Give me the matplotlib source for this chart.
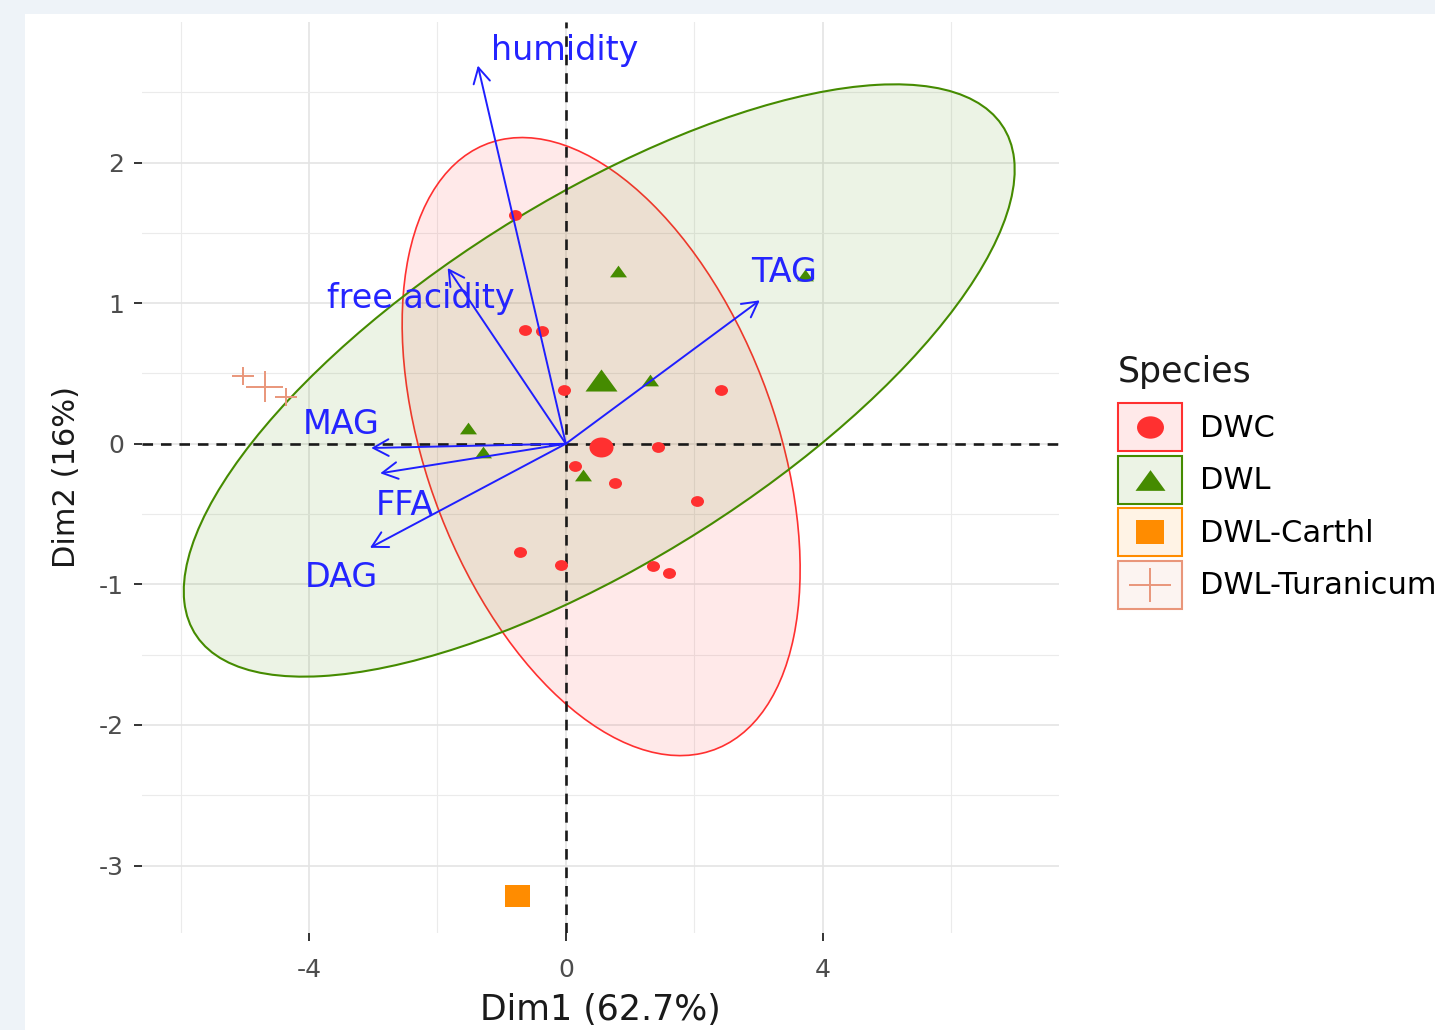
import matplotlib
matplotlib.use("Agg")
import matplotlib.pyplot as plt
import numpy as np
from matplotlib.patches import Ellipse, Rectangle, FancyArrowPatch, ArrowStyle
from matplotlib.lines import Line2D
from matplotlib.path import Path
from matplotlib.colors import to_rgba
from matplotlib.ticker import FixedLocator
from matplotlib.legend_handler import HandlerBase

plt.rcParams['axes.unicode_minus'] = False
plt.rcParams['font.family'] = ['DejaVu Sans']

# individuals
dwc_x = [-0.79, -0.64, -0.37, -0.03, 2.41, 1.43, 0.14, 0.76, 2.04, -0.72, -0.08, 1.35, 1.60]
dwc_y = [1.63, 0.81, 0.80, 0.38, 0.38, -0.02, -0.16, -0.28, -0.41, -0.77, -0.86, -0.87, -0.92]
dwl_x = [0.81, 1.31, -1.53, -1.29, 0.27, 3.72]
dwl_y = [1.23, 0.45, 0.11, -0.06, -0.22, 1.20]
carth_x = [-0.76]
carth_y = [-3.22]
tur_x = [-5.02, -4.36]
tur_y = [0.48, 0.33]

species = ["DWC", "DWL", "DWL-Carthl", "DWL-Turanicum"]
colors = ["#FF3030", "#458B00", "#FF8C00", "#E9967A"]

# variable arrows (coordinates of the tips)
var_names = ["humidity", "free acidity", "TAG", "MAG", "FFA", "DAG"]
var_x = [-1.37, -1.84, 3.02, -3.03, -2.89, -3.05]
var_y = [2.69, 1.25, 1.02, -0.03, -0.21, -0.74]

# concentration ellipses: centre, full axes, angle in degrees
ell_cx = [0.55, 0.52]
ell_cy = [-0.02, 0.45]
ell_w = [6.58, 13.30]
ell_h = [3.80, 2.88]
ell_ang = [-24.3, 13.7]

# the original png is stretched sideways, so the markers are too
sq = 0.83
circ = Path.unit_circle()
circle_m = Path(circ.vertices * [1, sq], circ.codes)
tri_m = Path([[-1, -0.69], [1, -0.69], [0, 0.69], [-1, -0.69]],
             [Path.MOVETO, Path.LINETO, Path.LINETO, Path.CLOSEPOLY])
square_m = Path([[-1, -0.88], [1, -0.88], [1, 0.88], [-1, 0.88], [-1, -0.88]],
                [Path.MOVETO, Path.LINETO, Path.LINETO, Path.LINETO, Path.CLOSEPOLY])
plus_m = Path([[-1, 0], [1, 0], [0, -sq], [0, sq]],
              [Path.MOVETO, Path.LINETO, Path.MOVETO, Path.LINETO])


class Key:
    def __init__(self, color, marker, size):
        self.color, self.marker, self.size = color, marker, size


class KeyHandler(HandlerBase):
    def create_artists(self, legend, h, xdescent, ydescent, width, height, fontsize, trans):
        box = Rectangle((-xdescent, -ydescent), width, height, transform=trans,
                        facecolor=to_rgba(h.color, 0.1), edgecolor=h.color, lw=1.5)
        if h.marker is plus_m:
            kw = dict(markerfacecolor='none', markeredgecolor=h.color, markeredgewidth=1.4)
        else:
            kw = dict(color=h.color, markeredgewidth=0)
        mk = Line2D([width / 2 - xdescent], [height / 2 - ydescent], ls='none',
                    marker=h.marker, markersize=h.size, transform=trans, **kw)
        return [box, mk]


fig = plt.figure(figsize=(14.35, 10.30), dpi=100, facecolor='#eef3f8')
fig.add_artist(Rectangle((25 / 1435, 0), 1, (1030 - 14) / 1030, transform=fig.transFigure,
                         facecolor='white', edgecolor='none', zorder=-10))
ax = fig.add_axes([142 / 1435, 97 / 1030, 917 / 1435, 911 / 1030])
ax.set_xlim(-6.6, 7.68)
ax.set_ylim(-3.48, 3.0)
for s in ax.spines.values():
    s.set_visible(False)

ax.xaxis.set_major_locator(FixedLocator([-4, 0, 4]))
ax.xaxis.set_minor_locator(FixedLocator([-6, -2, 2, 6]))
ax.yaxis.set_major_locator(FixedLocator([-3, -2, -1, 0, 1, 2]))
ax.yaxis.set_minor_locator(FixedLocator([-3.5, -2.5, -1.5, -0.5, 0.5, 1.5, 2.5]))
ax.grid(which='major', color='#e4e4e4', lw=1.2)
ax.grid(which='minor', color='#ebebeb', lw=0.8)
ax.set_axisbelow(True)
ax.tick_params(which='major', length=5.8, width=1.4, color='#333333',
               labelsize=18, labelcolor='#4d4d4d')
ax.tick_params(axis='x', which='major', pad=12)
ax.tick_params(axis='y', which='major', pad=7)
ax.tick_params(which='minor', length=0)

# ellipses
for i, lw in zip(range(2), [1.2, 1.5]):
    ax.add_patch(Ellipse((ell_cx[i], ell_cy[i]), ell_w[i], ell_h[i], angle=ell_ang[i],
                         facecolor=to_rgba(colors[i], 0.1), edgecolor=colors[i],
                         lw=lw, zorder=1))

dash = (0, (4, 3))
ax.axhline(0, color='#1a1a1a', lw=1.9, ls=dash, zorder=2)
ax.axvline(0, color='#1a1a1a', lw=1.9, ls=dash, zorder=2)

# points + group means
groups = [(dwc_x, dwc_y, circle_m, 88, 300),
          (dwl_x, dwl_y, tri_m, 150, 530),
          (carth_x, carth_y, square_m, 300, 324),
          (tur_x, tur_y, plus_m, 250, 710)]
for (gx, gy, m, s_small, s_big), c in zip(groups, colors):
    if m is plus_m:
        kw = dict(facecolors='none', edgecolors=c, linewidths=1.4)
    else:
        kw = dict(color=c, linewidths=0)
    ax.scatter(gx, gy, s=s_small, marker=m, zorder=3, **kw)
    ax.scatter([np.mean(gx)], [np.mean(gy)], s=s_big, marker=m, zorder=3, **kw)

# variable arrows and labels
label_off = {"humidity": (87, 15), "free acidity": (-27, -30), "TAG": (24, 28),
             "MAG": (-30, 23), "FFA": (25, -32), "DAG": (-29, -30)}
style = ArrowStyle('->', head_length=0.55, head_width=0.3)
for name, vx, vy in zip(var_names, var_x, var_y):
    ax.add_patch(FancyArrowPatch((0, 0), (vx, vy), arrowstyle=style, mutation_scale=20,
                                 color='#1f1fff', lw=1.4, shrinkA=0, shrinkB=0, zorder=4))
    ax.annotate(name, (vx, vy), xytext=label_off[name], textcoords='offset pixels',
                ha='center', va='center', fontsize=24, color='#2424ff', zorder=5)

ax.set_xlabel("Dim1 (62.7%)", fontsize=25, color='#1a1a1a', labelpad=8)
ax.set_ylabel("Dim2 (16%)", fontsize=22, color='#1a1a1a', labelpad=13)

# legend
leg_ms = [19.4, 21.6, 20, 30]
leg_m = [circle_m, tri_m, square_m, plus_m]
keys = [Key(c, m, ms) for c, m, ms in zip(colors, leg_m, leg_ms)]
fig.legend(keys, species, handler_map={Key: KeyHandler()}, loc='upper left',
           bbox_to_anchor=(1118 / 1435, 1 - 403 / 1030), frameon=False, fontsize=22,
           handlelength=2.09, handleheight=2.04, labelspacing=0.15, handletextpad=0.6,
           borderpad=0, borderaxespad=0)
fig.text(1118 / 1435, 1 - 382 / 1030, "Species", fontsize=25, color='#1a1a1a',
         ha='left', va='baseline')

fig.savefig("out.png", dpi=100, facecolor=fig.get_facecolor())
